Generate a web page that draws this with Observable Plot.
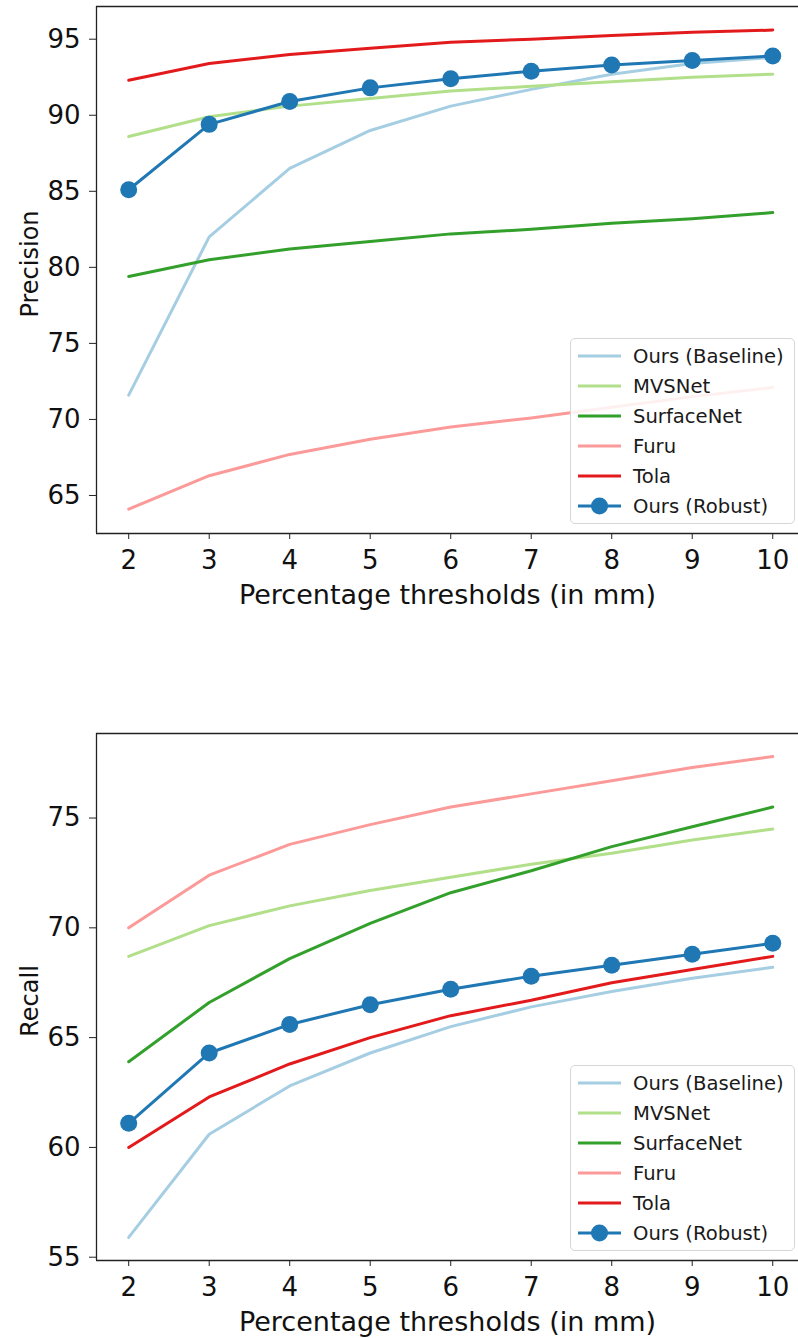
<!DOCTYPE html>
<html><head><meta charset="utf-8">
<script src="https://cdn.jsdelivr.net/npm/d3@7"></script>
<script src="https://cdn.jsdelivr.net/npm/@observablehq/plot@0.6"></script>
<style>
body{margin:0;background:#fff;font-family:"DejaVu Sans",sans-serif;}
#root{position:relative;width:798px;height:1338px;overflow:hidden;}
#root svg{display:block;}
.legend{position:absolute;left:570px;width:225px;height:186px;border:1px solid #d6d6d6;border-radius:5px;background:rgba(255,255,255,0.85);box-sizing:border-box;}
.legend .item{position:absolute;left:0;height:30px;width:224px;}
.legend .item span{position:absolute;left:62px;top:50%;transform:translateY(-50%);font-size:19.6px;color:#1a1a1a;white-space:nowrap;font-family:"DejaVu Sans",sans-serif;}
.legend .item svg{position:absolute;left:6px;top:0;}
</style></head><body><div id="root"></div>
<script>
const thresholds = [2, 3, 4, 5, 6, 7, 8, 9, 10];
const methods = ["Ours (Baseline)", "MVSNet", "SurfaceNet", "Furu", "Tola", "Ours (Robust)"];
const colors = ["#a6cee3", "#b2df8a", "#33a02c", "#fb9a99", "#e31a1c", "#1f77b4"];

// Precision (%)
const baselineP = [71.6, 82.0, 86.5, 89.0, 90.6, 91.7, 92.7, 93.4, 93.8];
const mvsnetP   = [88.6, 89.9, 90.6, 91.1, 91.6, 91.9, 92.2, 92.5, 92.7];
const surfaceP  = [79.4, 80.5, 81.2, 81.7, 82.2, 82.5, 82.9, 83.2, 83.6];
const furuP     = [64.1, 66.3, 67.7, 68.7, 69.5, 70.1, 70.8, 71.5, 72.1];
const tolaP     = [92.3, 93.4, 94.0, 94.4, 94.8, 95.0, 95.25, 95.45, 95.6];
const robustP   = [85.1, 89.4, 90.9, 91.8, 92.4, 92.9, 93.3, 93.6, 93.9];

// Recall (%)
const baselineR = [55.9, 60.6, 62.8, 64.3, 65.5, 66.4, 67.1, 67.7, 68.2];
const mvsnetR   = [68.7, 70.1, 71.0, 71.7, 72.3, 72.9, 73.4, 74.0, 74.5];
const surfaceR  = [63.9, 66.6, 68.6, 70.2, 71.6, 72.6, 73.7, 74.6, 75.5];
const furuR     = [70.0, 72.4, 73.8, 74.7, 75.5, 76.1, 76.7, 77.3, 77.8];
const tolaR     = [60.0, 62.3, 63.8, 65.0, 66.0, 66.7, 67.5, 68.1, 68.7];
const robustR   = [61.1, 64.3, 65.6, 66.5, 67.2, 67.8, 68.3, 68.8, 69.3];

const precisionTicks = [65, 70, 75, 80, 85, 90, 95];
const recallTicks = [55, 60, 65, 70, 75];
const xLabel = "Percentage thresholds (in mm)";

function toRows(series) {
  const rows = [];
  series.forEach((vals, i) => vals.forEach((v, j) => rows.push({method: methods[i], x: thresholds[j], y: v})));
  return rows;
}

function chart(series, yDomain, yTicks, yLabel, height, marginTop, marginBottom, labelShift) {
  const rows = toRows(series);
  const robust = rows.filter(d => d.method === "Ours (Robust)");
  const xDomain = [1.6, 10.32];
  return Plot.plot({
    width: 798, height, marginLeft: 96, marginRight: 0, marginTop, marginBottom,
    x: {domain: xDomain, axis: null},
    y: {domain: yDomain, axis: null},
    color: {domain: methods, range: colors},
    style: {fontFamily: "DejaVu Sans, sans-serif", background: "white", color: "#111", overflow: "visible"},
    marks: [
      Plot.ruleY([yDomain[1]], {stroke: "#222", strokeWidth: 1.3}),
      Plot.ruleY([yDomain[0]], {stroke: "#222", strokeWidth: 1.3}),
      Plot.ruleX([xDomain[0]], {stroke: "#222", strokeWidth: 1.3}),
      Plot.axisX({ticks: thresholds, tickSize: 6, tickPadding: 11, fontSize: 26, label: null, tickFormat: d => String(d), stroke: "#222"}),
      Plot.axisY({ticks: yTicks, tickSize: 7, tickPadding: 9, fontSize: 26, label: null, tickFormat: d => String(d), stroke: "#222"}),
      Plot.text([xLabel], {text: d => d, frameAnchor: "bottom", lineAnchor: "bottom", dy: 70, fontSize: 27, fill: "#111"}),
      Plot.text([yLabel], {text: d => d, frameAnchor: "left", textAnchor: "middle", lineAnchor: "bottom", rotate: -90, dx: -59, dy: labelShift, fontSize: 24, fill: "#111"}),
      Plot.line(rows, {x: "x", y: "y", z: "method", stroke: "method", strokeWidth: 3, strokeLinejoin: "round"}),
      Plot.dot(robust, {x: "x", y: "y", r: 8.5, fill: "method", stroke: null})
    ]
  });
}

const root = document.getElementById("root");
root.appendChild(chart([baselineP, mvsnetP, surfaceP, furuP, tolaP, robustP], [62.5, 97.15], precisionTicks, "Precision", 640, 6, 107, -6));
root.appendChild(chart([baselineR, mvsnetR, surfaceR, furuR, tolaR, robustR], [54.85, 78.85], recallTicks, "Recall", 698, 93, 78, 4));

function legend(top) {
  const box = document.createElement("div");
  box.className = "legend";
  box.style.top = top + "px";
  methods.forEach((m, i) => {
    const item = document.createElement("div");
    item.className = "item";
    item.style.top = (2 + i * 30) + "px";
    const ns = "http://www.w3.org/2000/svg";
    const svg = document.createElementNS(ns, "svg");
    svg.setAttribute("width", 46); svg.setAttribute("height", 30);
    const line = document.createElementNS(ns, "line");
    line.setAttribute("x1", 1); line.setAttribute("x2", 44);
    line.setAttribute("y1", 15); line.setAttribute("y2", 15);
    line.setAttribute("stroke", colors[i]); line.setAttribute("stroke-width", 3.2);
    svg.appendChild(line);
    if (m === "Ours (Robust)") {
      const c = document.createElementNS(ns, "circle");
      c.setAttribute("cx", 22.5); c.setAttribute("cy", 15); c.setAttribute("r", 8.5);
      c.setAttribute("fill", colors[i]);
      svg.appendChild(c);
    }
    item.appendChild(svg);
    const span = document.createElement("span");
    span.textContent = m;
    item.appendChild(span);
    box.appendChild(item);
  });
  root.appendChild(box);
}
legend(338);
legend(1065);
</script>
</body></html>
